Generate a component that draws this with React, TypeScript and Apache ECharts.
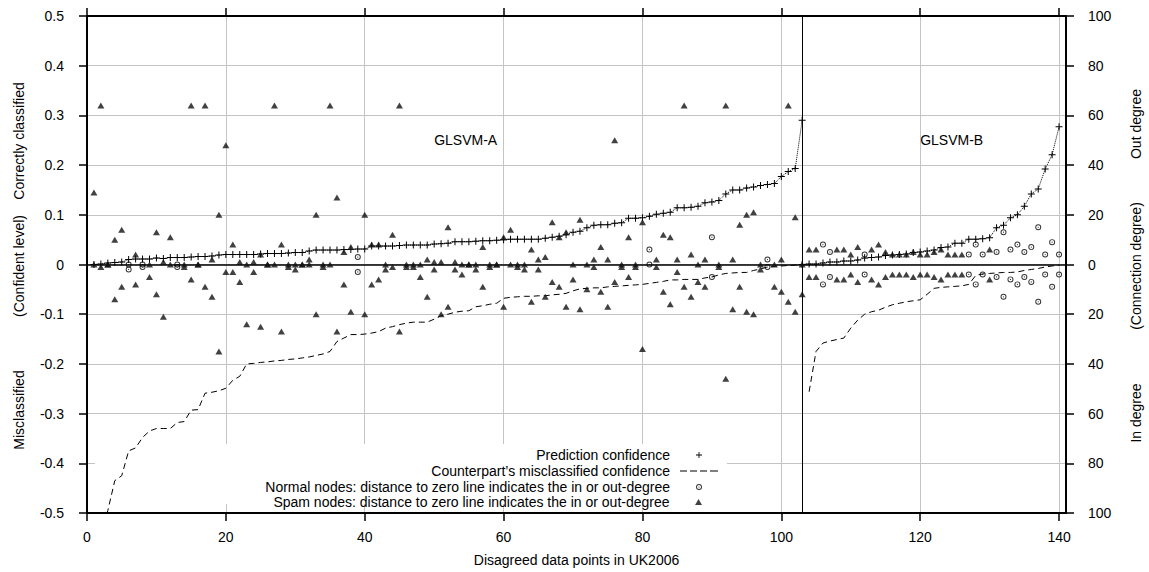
import React, { useEffect, useRef } from 'react';
import * as echarts from 'echarts';

const FONT = 'Liberation Sans, Arial, Helvetica, sans-serif';

// x-axis ticks
const xTicks = [0, 20, 40, 60, 80, 100, 120, 140];

// Prediction confidence, GLSVM-A (x = 1..103)
const predAStart = 1;
const predA = [
  0.000, 0.001, 0.003, 0.004, 0.005, 0.010, 0.011, 0.011, 0.011, 0.013,
  0.012, 0.014, 0.014, 0.014, 0.015, 0.016, 0.016, 0.017, 0.019, 0.020,
  0.020, 0.020, 0.020, 0.020, 0.021, 0.022, 0.022, 0.022, 0.023, 0.024,
  0.024, 0.027, 0.029, 0.029, 0.029, 0.029, 0.030, 0.030, 0.031, 0.031,
  0.037, 0.037, 0.037, 0.037, 0.038, 0.039, 0.039, 0.039, 0.039, 0.041,
  0.042, 0.043, 0.046, 0.046, 0.046, 0.047, 0.048, 0.048, 0.049, 0.050,
  0.051, 0.051, 0.051, 0.051, 0.051, 0.053, 0.055, 0.057, 0.060, 0.065,
  0.067, 0.074, 0.079, 0.080, 0.080, 0.083, 0.084, 0.093, 0.093, 0.094,
  0.097, 0.101, 0.103, 0.105, 0.114, 0.114, 0.115, 0.117, 0.124, 0.126,
  0.129, 0.142, 0.150, 0.150, 0.154, 0.156, 0.159, 0.161, 0.163, 0.177,
  0.187, 0.193, 0.290,
];

// Prediction confidence, GLSVM-B (x = 103..140)
const predBStart = 103;
const predB = [
  0.000, 0.001, 0.001, 0.003, 0.005, 0.005, 0.007, 0.007, 0.009, 0.013,
  0.014, 0.015, 0.018, 0.019, 0.020, 0.021, 0.024, 0.025, 0.027, 0.029,
  0.034, 0.035, 0.043, 0.043, 0.051, 0.051, 0.052, 0.054, 0.074, 0.079,
  0.094, 0.100, 0.117, 0.142, 0.152, 0.192, 0.221, 0.277,
];

// Counterpart's misclassified confidence, GLSVM-A (x = 1..103)
const cpAStart = 1;
const cpA = [
  -0.620, -0.540, -0.495, -0.435, -0.425, -0.375, -0.369, -0.348, -0.335, -0.330,
  -0.330, -0.330, -0.318, -0.316, -0.293, -0.292, -0.259, -0.257, -0.254, -0.249,
  -0.233, -0.225, -0.200, -0.199, -0.197, -0.196, -0.194, -0.193, -0.191, -0.190,
  -0.188, -0.186, -0.183, -0.180, -0.175, -0.155, -0.148, -0.141, -0.141, -0.140,
  -0.138, -0.135, -0.128, -0.125, -0.121, -0.118, -0.116, -0.116, -0.116, -0.110,
  -0.103, -0.100, -0.096, -0.094, -0.093, -0.085, -0.083, -0.080, -0.078, -0.068,
  -0.066, -0.065, -0.064, -0.064, -0.063, -0.063, -0.061, -0.060, -0.058, -0.053,
  -0.049, -0.048, -0.047, -0.047, -0.045, -0.044, -0.043, -0.042, -0.041, -0.040,
  -0.038, -0.036, -0.034, -0.031, -0.031, -0.030, -0.030, -0.030, -0.027, -0.025,
  -0.021, -0.018, -0.017, -0.016, -0.016, -0.012, -0.009, -0.005, -0.004, -0.003,
  -0.002, -0.001, 0.000,
];

// Counterpart's misclassified confidence, GLSVM-B (x = 104..140)
const cpBStart = 104;
const cpB = [
  -0.256, -0.175, -0.158, -0.154, -0.151, -0.148, -0.128, -0.112, -0.100, -0.095,
  -0.092, -0.086, -0.081, -0.078, -0.075, -0.073, -0.071, -0.060, -0.048, -0.046,
  -0.045, -0.044, -0.043, -0.040, -0.022, -0.019, -0.018, -0.017, -0.016, -0.016,
  -0.015, -0.012, -0.010, -0.008, -0.005, -0.003, -0.001,
];

// Spam nodes: position, out-degree, in-degree
const spamX = [
  1, 2, 3, 4, 5, 7, 9, 10, 11, 12, 14, 15, 16, 17, 18, 19, 20, 21, 22, 23,
  24, 25, 26, 27, 28, 29, 30, 31, 32, 33, 34, 35, 36, 37, 38, 40, 41, 42, 43, 44,
  45, 46, 47, 48, 49, 50, 51, 52, 53, 54, 55, 56, 57, 58, 59, 60, 61, 62, 63, 64,
  65, 66, 67, 68, 69, 70, 71, 72, 73, 74, 75, 76, 77, 78, 79, 80, 82, 83, 84, 85,
  86, 87, 88, 89, 91, 92, 93, 94, 95, 96, 97, 99, 100, 101, 102, 103,
  104, 105, 108, 109, 110, 111, 113, 114, 115, 116, 117, 118, 119, 120, 121, 122,
  123, 124, 125, 126, 130,
];
const spamOut = [
  29, 64, 0, 10, 14, 4, 0, 13, 1, 11, 0, 64, 0, 64, 2, 20, 48, 8, 1, 0,
  1, 4, 0, 64, 8, 0, 0, 0, 2, 20, 0, 64, 27, 5, 7, 20, 8, 8, 0, 12,
  64, 0, 0, 0, 2, 1, 1, 15, 1, 0, 0, 0, 7, 0, 0, 11, 14, 0, 0, 6,
  2, 3, 17, 11, 13, 0, 18, 0, 2, 7, 2, 50, 0, 11, 0, 17, 2, 12, 11, 2,
  64, 4, 0, 2, 0, 64, 2, 16, 20, 21, 0, 0, 2, 64, 19, 0,
  6, 6, 6, 6, 4, 7, 6, 8, 5, 4, 4, 4, 5, 4, 4, 5,
  6, 4, 4, 4, 6,
];
const spamIn = [
  0, 1, 0, 14, 9, 8, 5, 12, 21, 0, 1, 6, 0, 9, 13, 35, 3, 3, 7, 24,
  3, 25, 0, 0, 27, 1, 2, 0, 0, 20, 1, 0, 27, 8, 19, 20, 8, 6, 2, 1,
  27, 1, 1, 5, 13, 2, 20, 17, 2, 4, 0, 2, 9, 1, 0, 17, 0, 1, 2, 15,
  2, 13, 7, 9, 17, 6, 18, 10, 1, 11, 17, 7, 1, 5, 1, 34, 1, 11, 16, 3,
  9, 13, 7, 9, 1, 46, 18, 9, 19, 20, 2, 9, 11, 15, 19, 12,
  5, 5, 6, 6, 4, 7, 6, 8, 5, 4, 4, 4, 5, 4, 4, 5,
  6, 4, 4, 4, 6,
];

// Normal nodes: position, out-degree, in-degree
const normalX = [6, 8, 13, 39, 81, 90, 98, 106, 107, 112, 127, 128, 129, 131, 132, 133, 134, 135, 136, 137, 138, 139, 140];
const normalOut = [0, 0, 0, 3, 6, 11, 2, 8, 5, 4, 4, 8, 4, 5, 13, 6, 8, 5, 7, 15, 4, 9, 4];
const normalIn = [2, 1, 1, 3, 0, 5, 1, 8, 5, 4, 4, 8, 4, 5, 13, 6, 8, 5, 7, 15, 4, 9, 4];

const NAME_PRED = 'Prediction confidence';
const NAME_CP = 'Counterpart\u2019s misclassified confidence';
const NAME_NORMAL = 'Normal nodes: distance to zero line indicates the in or out-degree';
const NAME_SPAM = 'Spam nodes: distance to zero line indicates the in or out-degree';

const PLUS = 'path://M3,0h1v3h3v1h-3v3h-1v-3h-3v-1h3z';
const RING = 'path://M5,0A5,5,0,1,1,5,10A5,5,0,1,1,5,0Z M5,1.6A3.4,3.4,0,1,0,5,8.4A3.4,3.4,0,1,0,5,1.6Z M5,4A1,1,0,1,1,5,6A1,1,0,1,1,5,4Z';
const TRI = 'path://M5,0L10,8.66L0,8.66Z';
const DASH = 'path://M0,0h7v1h-7z M10,0h7v1h-7z M20,0h7v1h-7z M30,0h8v1h-8z';

const toPairs = (start: number, arr: number[]) => arr.map((v, i) => [start + i, v]);
const degreePoints = (xs: number[], outs: number[], ins: number[]) =>
  xs.map((x, i) => [x, outs[i]]).concat(xs.map((x, i) => [x, -ins[i]]));

function buildOption(): any {
  const axisLine = { show: true, onZero: false, lineStyle: { color: '#000', width: 2 } };
  const axisTick = { show: true, inside: false, length: 8, lineStyle: { color: '#000', width: 1.5 } };
  const labelStyle = { color: '#000', fontSize: 14, fontFamily: FONT };
  const titleText = (text: string, x: number, y: number) => ({
    type: 'text', x, y, rotation: Math.PI / 2, silent: true,
    style: { text, fill: '#000', fontSize: 14, fontFamily: FONT, align: 'center', verticalAlign: 'middle' },
  });
  const legendAt = (name: string, icon: string, top: number, right: number, itemWidth: number, padRight: number) => ({
    data: [{ name, icon }], orient: 'vertical', align: 'right', right, top,
    itemWidth, itemHeight: 6, padding: 0, selectedMode: false,
    textStyle: { color: '#000', fontSize: 14, fontFamily: FONT, padding: [0, padRight, 0, 0] },
  });

  return {
    animation: false,
    color: ['#000'],
    textStyle: { fontFamily: FONT },
    grid: { left: 87, right: 83, top: 16, bottom: 56, show: false },
    xAxis: [
      {
        type: 'value', position: 'bottom', min: 0, max: 141, interval: 20,
        axisLine, axisTick: { ...axisTick, customValues: xTicks },
        axisLabel: { ...labelStyle, margin: 17, customValues: xTicks, formatter: (v: number) => (v % 20 === 0 ? String(v) : '') },
        splitLine: { show: true, lineStyle: { color: '#c4c4c4', width: 1 } },
        name: 'Disagreed data points in UK2006', nameLocation: 'middle', nameGap: 40,
        nameTextStyle: { ...labelStyle },
      },
      {
        type: 'value', position: 'top', min: 0, max: 141, interval: 20,
        axisLine, axisTick: { ...axisTick, customValues: xTicks },
        axisLabel: { show: false }, splitLine: { show: false },
      },
    ],
    yAxis: [
      {
        type: 'value', position: 'left', min: -0.5, max: 0.5, interval: 0.1,
        axisLine, axisTick,
        axisLabel: { ...labelStyle, margin: 23, formatter: (v: number) => { const r = Math.round(v * 10) / 10; return r === 0 ? '0' : String(r); } },
        splitLine: { show: true, lineStyle: { color: '#c4c4c4', width: 1 } },
      },
      {
        type: 'value', position: 'right', min: -100, max: 100, interval: 20,
        axisLine, axisTick,
        axisLabel: { ...labelStyle, margin: 22, formatter: (v: number) => String(Math.abs(Math.round(v))) },
        splitLine: { show: false },
      },
    ],
    legend: [
      legendAt(NAME_PRED, PLUS, 448, 447, 48, 0),
      legendAt(NAME_CP, DASH, 464, 431, 38, 5),
      legendAt(NAME_NORMAL, RING, 480, 447, 48, 0),
      legendAt(NAME_SPAM, TRI, 495, 447, 48, 0),
    ],
    graphic: [
      { type: 'rect', shape: { x: 95, y: 444, width: 632, height: 60 }, style: { fill: '#fff' }, z: 1, silent: true },
      titleText('Correctly classified', 19, 141),
      titleText('(Confident level)', 19, 266),
      titleText('Misclassified', 19, 410),
      titleText('Out degree', 1136, 124),
      titleText('(Connection degree)', 1136, 266),
      titleText('In degree', 1136, 413),
    ],
    series: [
      {
        type: 'line', name: NAME_PRED, xAxisIndex: 0, yAxisIndex: 0, z: 4,
        data: toPairs(predAStart, predA),
        symbol: PLUS, symbolSize: 7, showSymbol: true,
        itemStyle: { color: '#000' },
        lineStyle: { color: '#000', width: 1, type: 'dotted' },
        markLine: {
          silent: true, symbol: ['none', 'none'], label: { show: false },
          data: [
            { yAxis: 0, lineStyle: { color: '#000', width: 1.5, type: 'solid' } },
            { xAxis: 103, lineStyle: { color: '#000', width: 1, type: 'solid' } },
          ],
        },
        markPoint: {
          symbol: 'circle', symbolSize: 0, silent: true,
          label: { show: true, position: 'right', distance: 0, color: '#000', fontSize: 14, fontFamily: FONT },
          data: [
            { coord: [50, 0.25], value: 'GLSVM-A', label: { formatter: 'GLSVM-A' } },
            { coord: [120, 0.25], value: 'GLSVM-B', label: { formatter: 'GLSVM-B' } },
          ],
        },
      },
      {
        type: 'line', name: NAME_PRED, xAxisIndex: 0, yAxisIndex: 0, z: 4,
        data: toPairs(predBStart, predB),
        symbol: PLUS, symbolSize: 7, showSymbol: true,
        itemStyle: { color: '#000' },
        lineStyle: { color: '#000', width: 1, type: 'dotted' },
      },
      {
        type: 'line', name: NAME_CP, xAxisIndex: 0, yAxisIndex: 0, z: 3,
        data: toPairs(cpAStart, cpA), symbol: 'none',
        itemStyle: { color: '#000' },
        lineStyle: { color: '#000', width: 1, type: [6, 4] },
      },
      {
        type: 'line', name: NAME_CP, xAxisIndex: 0, yAxisIndex: 0, z: 3,
        data: toPairs(cpBStart, cpB), symbol: 'none',
        itemStyle: { color: '#000' },
        lineStyle: { color: '#000', width: 1, type: [6, 4] },
      },
      {
        type: 'scatter', name: NAME_NORMAL, xAxisIndex: 0, yAxisIndex: 1, z: 5,
        data: degreePoints(normalX, normalOut, normalIn),
        symbol: RING, symbolSize: 6, itemStyle: { color: '#000' },
      },
      {
        type: 'scatter', name: NAME_SPAM, xAxisIndex: 0, yAxisIndex: 1, z: 5,
        data: degreePoints(spamX, spamOut, spamIn),
        symbol: 'triangle', symbolSize: [7, 6], itemStyle: { color: '#111' },
      },
    ],
  };
}

export default function App() {
  const ref = useRef<HTMLDivElement>(null);
  useEffect(() => {
    if (!ref.current) return;
    const chart = echarts.init(ref.current, null, { renderer: 'svg' });
    chart.setOption(buildOption());
    return () => chart.dispose();
  }, []);
  return <div ref={ref} style={{ position: 'absolute', left: 0, top: 0, width: 1149, height: 572 }} />;
}
